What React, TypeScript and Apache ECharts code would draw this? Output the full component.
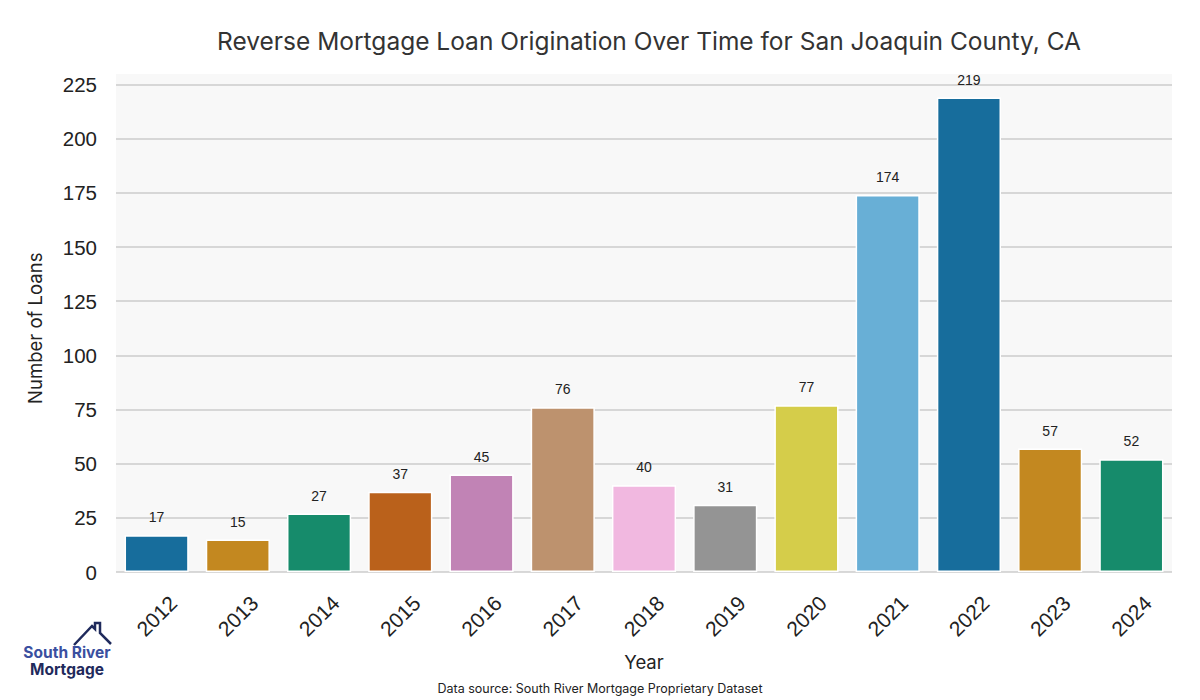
import React, { useEffect, useRef } from "react";
import * as echarts from "echarts";

const years = ["2012","2013","2014","2015","2016","2017","2018","2019","2020","2021","2022","2023","2024"];
const loans = [17, 15, 27, 37, 45, 76, 40, 31, 77, 174, 219, 57, 52];
const palette = ["#176D9C","#C38820","#168B6B","#BA611B","#C183B5","#BD926E","#F1B8E0","#949494","#D5CD4A","#68AFD6"];
const yTicks = [0, 25, 50, 75, 100, 125, 150, 175, 200, 225];

export default function App() {
  const ref = useRef<HTMLDivElement>(null);
  useEffect(() => {
    if (!ref.current) return;
    const chart = echarts.init(ref.current, null, { renderer: "svg" });
    const tickFont = "'Liberation Sans', Arial, sans-serif";
    const labelFont = "Inter, 'Noto Sans', sans-serif";
    chart.setOption({
      animation: false,
      backgroundColor: "#ffffff",
      title: {
        text: "Reverse Mortgage Loan Origination Over Time for San Joaquin County, CA",
        left: 644,
        top: 23,
        textAlign: "center",
        textStyle: { fontFamily: labelFont, fontSize: 24.5, fontWeight: "normal", color: "#333333" },
      },
      grid: { left: 116, right: 28, top: 84.5, bottom: 128, containLabel: false },
      xAxis: {
        type: "category",
        data: years,
        axisLine: { show: false },
        axisTick: { show: false },
        axisLabel: {
          rotate: 45,
          align: "center",
          verticalAlign: "middle",
          margin: 44,
          fontSize: 21,
          fontFamily: tickFont,
          color: "#222222",
          interval: 0,
        },
        name: "Year",
        nameLocation: "middle",
        nameGap: 80,
        nameTextStyle: { fontFamily: labelFont, fontSize: 18.5, color: "#222222" },
      },
      yAxis: {
        type: "value",
        min: yTicks[0],
        max: yTicks[yTicks.length - 1],
        interval: 25,
        axisLine: { show: false },
        axisTick: { show: false },
        axisLabel: { margin: 19, fontSize: 20.5, fontFamily: tickFont, color: "#222222" },
        splitLine: { show: true, lineStyle: { color: "#cccccc", width: 1.5 } },
        name: "Number of Loans",
        nameLocation: "middle",
        nameGap: 72,
        nameTextStyle: { fontFamily: labelFont, fontSize: 18.5, color: "#222222" },
      },
      graphic: [
        {
          type: "rect",
          z: -100,
          shape: { x: 116, y: 74, width: 1056, height: 498 },
          style: { fill: "#f8f8f8" },
          silent: true,
        },
        {
          type: "polyline",
          shape: { points: [[74, 645], [92, 626], [95, 629], [95, 623], [100, 623], [100, 633], [111, 644]] },
          style: { stroke: "#1f2a5c", lineWidth: 2.5, fill: null },
        },
        {
          type: "text",
          x: 67,
          y: 652,
          style: {
            text: "South River",
            fontFamily: labelFont,
            fontSize: 15.5,
            fontWeight: "bold",
            fill: "#3a4f9f",
            textAlign: "center",
            textVerticalAlign: "middle",
          },
        },
        {
          type: "text",
          x: 67,
          y: 669,
          style: {
            text: "Mortgage",
            fontFamily: labelFont,
            fontSize: 15.5,
            fontWeight: "bold",
            fill: "#1f2a5c",
            textAlign: "center",
            textVerticalAlign: "middle",
          },
        },
        {
          type: "text",
          x: 600,
          y: 688,
          style: {
            text: "Data source: South River Mortgage Proprietary Dataset",
            fontFamily: labelFont,
            fontSize: 12.5,
            fill: "#222222",
            textAlign: "center",
            textVerticalAlign: "middle",
          },
        },
      ],
      series: [
        {
          type: "bar",
          data: loans.map((v, i) => ({ value: v, itemStyle: { color: palette[i % palette.length] } })),
          barWidth: "79%",
          itemStyle: { borderColor: "#ffffff", borderWidth: 1.5 },
          label: {
            show: true,
            position: "top",
            distance: 11,
            fontSize: 14,
            fontFamily: tickFont,
            color: "#222222",
          },
        },
      ],
    });
    return () => chart.dispose();
  }, []);
  return <div ref={ref} style={{ position: "fixed", left: 0, top: 0, width: 1200, height: 700 }} />;
}
